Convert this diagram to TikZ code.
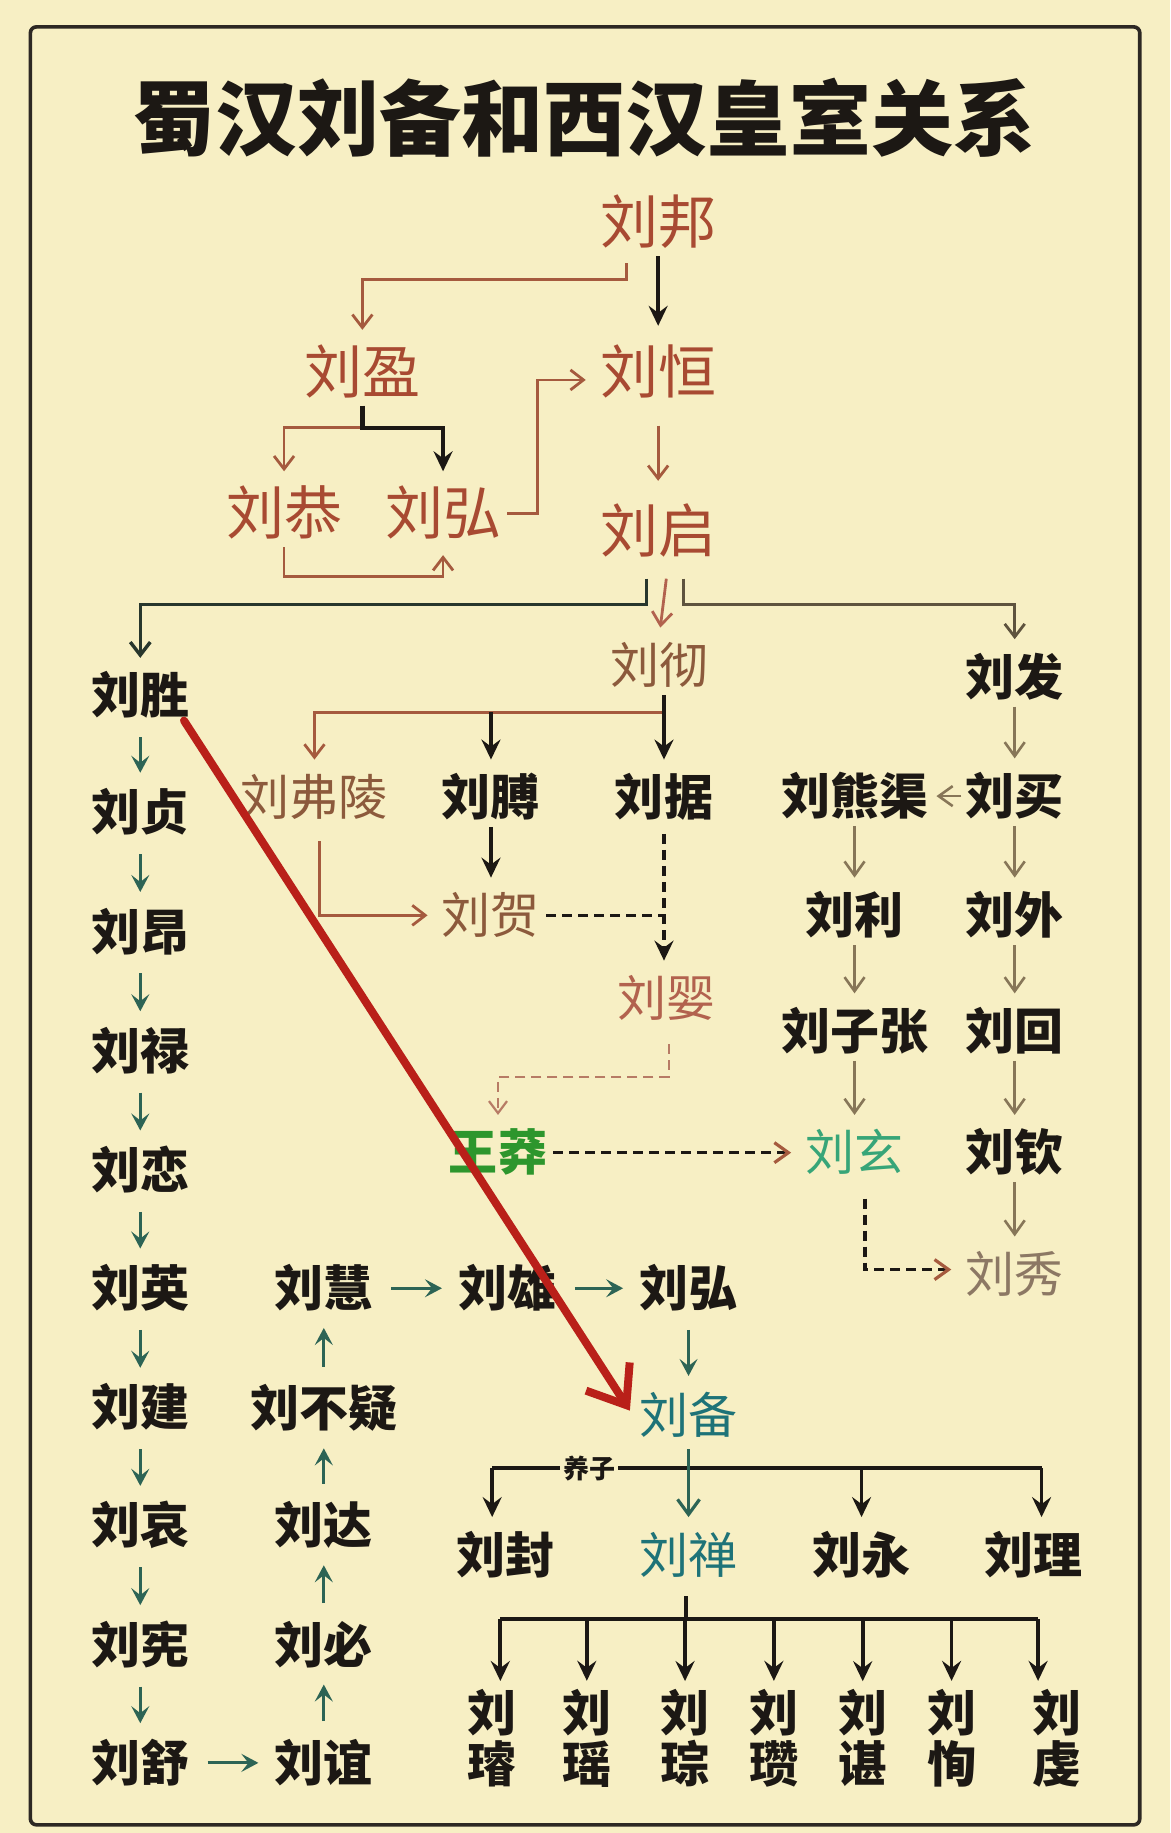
\documentclass[tikz,border=0pt]{standalone}
\usepackage{fontspec}
\newfontfamily\cjk{Noto Sans CJK SC}
\usetikzlibrary{arrows.meta,calc}
\definecolor{paper}{RGB}{247,239,196}
\definecolor{frameInk}{RGB}{45,40,35}
\definecolor{ink}{RGB}{28,24,20}
\definecolor{hanRed}{RGB}{168,74,50}
\definecolor{hanBrown}{RGB}{140,90,60}
\definecolor{yingPink}{RGB}{178,98,78}
\definecolor{lineBrown}{RGB}{165,90,62}
\definecolor{lineTeal}{RGB}{45,100,85}
\definecolor{lineDark}{RGB}{40,55,45}
\definecolor{lineGrey}{RGB}{135,118,88}
\definecolor{mangGreen}{RGB}{45,150,45}
\definecolor{xuanGreen}{RGB}{55,165,120}
\definecolor{beiTeal}{RGB}{30,115,120}
\definecolor{xiuGrey}{RGB}{140,120,100}
\definecolor{arrowRed}{RGB}{185,32,25}
\tikzset{
  person/.style={inner sep=3pt},
  emperor/.style={person, text height=24.6pt, text depth=2.9pt,
    font=\cjk\fontsize{29}{29}\selectfont, text=hanRed},
  royal/.style={person, text height=20.8pt, text depth=2.5pt,
    font=\cjk\fontsize{24.5}{24.5}\selectfont, text=hanBrown},
  kin/.style={person, text height=20.8pt, text depth=2.5pt,
    font=\cjk\bfseries\fontsize{24.5}{24.5}\selectfont, text=ink},
  grandson/.style={inner sep=2pt, align=center,
    font=\cjk\bfseries\fontsize{24.5}{25.5}\selectfont, text=ink},
  tag/.style={inner sep=1.5pt, fill=paper,
    font=\cjk\bfseries\fontsize{13}{13}\selectfont, text=ink},
  brownarr/.style={draw=lineBrown, line width=1.4pt, shorten >=4pt,
    -{Straight Barb[length=6.5pt,width=10pt]}},
  inkarr/.style={draw=ink, line width=1.9pt, shorten >=4pt,
    -{Stealth[length=10pt,width=9.5pt,inset=3.5pt]}},
  inkline/.style={draw=ink, line width=1.9pt},
  tealarr/.style={draw=lineTeal, line width=1.6pt, shorten <=6pt, shorten >=5pt,
    -{Stealth[length=8.5pt,width=9pt,inset=3.5pt]}},
  greyarr/.style={draw=lineGrey, line width=1.3pt, shorten >=4pt,
    -{Straight Barb[length=7pt,width=10pt]}},
  broken/.style={dash pattern=on 5pt off 3pt},
  bigarrow/.style={draw=arrowRed, line width=4pt, line cap=round,
    -{Straight Barb[length=17pt,width=26pt]}}
}
\begin{document}
\begin{tikzpicture}[x=0.5844pt, y=-0.5844pt]
\useasboundingbox (0,0) rectangle (1001,1568);
\fill[paper] (0,0) rectangle (1001,1568);
\draw[frameInk, line width=1.8pt, rounded corners=3pt] (26,23) rectangle (975,1561);
% Title
\node[font=\cjk\bfseries\fontsize{41}{41}\selectfont, text=ink] (title) at (500,101)
    {蜀汉刘备和西汉皇室关系};
% Western Han emperors
\node[emperor] (bang) at (563,190) {刘邦};
\node[emperor] (ying) at (310,318) {刘盈};
\node[emperor] (heng) at (563,318) {刘恒};
\node[emperor] (gong) at (243,439) {刘恭};
\node[emperor] (hongA) at (379,439) {刘弘};
\node[emperor] (qi) at (563,454) {刘启};
\node[royal] (che) at (564,569) {刘彻};
\node[kin] (sheng) at (120,595) {刘胜};
\node[kin] (fa) at (868,579) {刘发};
\node[royal] (fuling) at (269,682) {刘弗陵};
\node[kin] (bo) at (420,682) {刘膊};
\node[kin] (ju) at (568,682) {刘据};
\node[kin] (xiongqu) at (731,681) {刘熊渠};
\node[kin] (mai) at (868,681) {刘买};
\node[royal] (he) at (420,783) {刘贺};
\node[kin] (lili) at (731,783) {刘利};
\node[kin] (wai) at (868,783) {刘外};
\node[royal, text=yingPink] (yingB) at (570,854) {刘婴};
\node[kin] (zizhang) at (731,882) {刘子张};
\node[kin] (hui) at (868,882) {刘回};
\node[kin, text=mangGreen] (mang) at (426,986) {王莽};
\node[royal, text=xuanGreen] (xuan) at (731,986) {刘玄};
\node[kin] (qin) at (868,986) {刘钦};
\node[royal, text=xiuGrey] (xiu) at (868,1090) {刘秀};
% Zhongshan line down to Liu Bei
\node[kin] (zhen) at (120,695) {刘贞};
\node[kin] (ang) at (120,797) {刘昂};
\node[kin] (lu) at (120,899) {刘禄};
\node[kin] (lian) at (120,1001) {刘恋};
\node[kin] (yingC) at (120,1102) {刘英};
\node[kin] (jian) at (120,1204) {刘建};
\node[kin] (ai) at (120,1305) {刘哀};
\node[kin] (xian) at (120,1407) {刘宪};
\node[kin] (shu) at (120,1508) {刘舒};
\node[kin] (yi) at (277,1508) {刘谊};
\node[kin] (bi) at (277,1407) {刘必};
\node[kin] (da) at (277,1305) {刘达};
\node[kin] (buyi) at (277,1205) {刘不疑};
\node[kin] (huiB) at (277,1102) {刘慧};
\node[kin] (xiong) at (434,1102) {刘雄};
\node[kin] (hongB) at (589,1102) {刘弘};
\node[royal, text=beiTeal] (bei) at (589,1211) {刘备};
% Shu Han
\node[kin] (feng) at (432,1330) {刘封};
\node[royal, text=beiTeal] (shan) at (589,1330) {刘禅};
\node[kin] (yong) at (737,1330) {刘永};
\node[kin] (lixx) at (884,1330) {刘理};
\node[grandson] (kidA) at (421,1487) {刘\\璿};
\node[grandson] (kidB) at (502,1487) {刘\\瑶};
\node[grandson] (kidC) at (586,1487) {刘\\琮};
\node[grandson] (kidD) at (662,1487) {刘\\瓒};
\node[grandson] (kidE) at (738,1487) {刘\\谌};
\node[grandson] (kidF) at (814,1487) {刘\\恂};
\node[grandson] (kidG) at (904,1487) {刘\\虔};

% Liu Bang to Liu Qi
\draw[brownarr] ($(bang.south)+(-27,6)$) -- ++(0,14) -| (ying.north);
\draw[inkarr, shorten >=6pt] (bang.south) -- (heng.north);
\draw[brownarr] (ying.south) -- ++(0,19) -| (gong.north);
\draw[inkline, line width=2.2pt, -{Stealth[length=10pt,width=9.5pt,inset=3.5pt]}, shorten >=4pt]
    (ying.south) -- ++(0,19) -| (hongA.north);
\draw[brownarr] (hongA.east) -- ++(26,0) |- ($(heng.west)+(0,7)$);
\draw[brownarr] (gong.south) -- ++(0,25) -| (hongA.south);
\draw[brownarr, shorten <=10pt, shorten >=8pt] (heng.south) -- (qi.north);
% Liu Qi's sons
\draw[draw=lineDark, line width=1.7pt, shorten >=4pt, -{Straight Barb[length=6.5pt,width=10pt]}]
    ($(qi.south)+(-10,12)$) -- ++(0,22) -| (sheng.north);
\draw[brownarr, draw=yingPink] ($(qi.south)+(7,12)$) -- (che.north);
\draw[draw=lineGrey!70!black, line width=1.4pt, shorten >=4pt, -{Straight Barb[length=6.5pt,width=10pt]}]
    ($(qi.south)+(22,12)$) -- ++(0,22) -| (fa.north);
% Liu Che's sons
\coordinate (cheBar) at ($(che.south)+(4,15)$);
\draw[brownarr] (che.south -| cheBar) -- (cheBar) -| (fuling.north);
\draw[inkarr] (che.south -| cheBar) -- (ju.north);
\draw[inkarr] (cheBar -| bo.north) -- (bo.north);
\draw[brownarr] ($(fuling.south)+(4,12)$) |- (he.west);
\draw[inkarr] (bo.south) -- (he.north);
\draw[inkarr, broken] ($(ju.south)+(0,6)$) -- (ju.south |- yingB.north);
\draw[inkline, broken, line width=1.6pt] (he.east) -- (he.east -| ju.south);
\draw[draw=lineBrown!80, line width=1.1pt, broken, shorten >=4pt, -{Straight Barb[length=6pt,width=9pt]}]
    ($(yingB.south)+(2,14)$) -- ++(0,28) -| (mang.north);
\draw[draw=ink, line width=1.6pt, broken, shorten >=4pt, -{Straight Barb[length=7pt,width=10pt,color=lineBrown]}]
    (mang.east) -- (xuan.west);
\draw[draw=ink, line width=1.6pt, broken, shorten >=4pt, -{Straight Barb[length=7pt,width=10pt,color=lineBrown]}]
    ($(xuan.south)+(9,14)$) |- ($(xiu.west)+(0,-4)$);
% Changsha line
\draw[greyarr] (fa.south) -- (mai.north);
\draw[greyarr, shorten >=1pt, shorten <=-1pt] (mai.west) -- (xiongqu.east);
\draw[greyarr] (mai.south) -- (wai.north);
\draw[greyarr] (xiongqu.south) -- (lili.north);
\draw[greyarr] (wai.south) -- (hui.north);
\draw[greyarr] (lili.south) -- (zizhang.north);
\draw[greyarr] (hui.south) -- (qin.north);
\draw[greyarr] (zizhang.south) -- (xuan.north);
\draw[greyarr] (qin.south) -- (xiu.north);
% Zhongshan line
\draw[tealarr] (sheng.south) -- (zhen.north);
\draw[tealarr] (zhen.south) -- (ang.north);
\draw[tealarr] (ang.south) -- (lu.north);
\draw[tealarr] (lu.south) -- (lian.north);
\draw[tealarr] (lian.south) -- (yingC.north);
\draw[tealarr] (yingC.south) -- (jian.north);
\draw[tealarr] (jian.south) -- (ai.north);
\draw[tealarr] (ai.south) -- (xian.north);
\draw[tealarr] (xian.south) -- (shu.north);
\draw[tealarr] (shu.east) -- (yi.west);
\draw[tealarr] (yi.north) -- (bi.south);
\draw[tealarr] (bi.north) -- (da.south);
\draw[tealarr] (da.north) -- (buyi.south);
\draw[tealarr] (buyi.north) -- (huiB.south);
\draw[tealarr] (huiB.east) -- (xiong.west);
\draw[tealarr] (xiong.east) -- (hongB.west);
\draw[tealarr] (hongB.south) -- (bei.north);
% Liu Bei's sons
\coordinate (sonBar) at (589,1256);
\draw[inkline] ($(feng.north |- sonBar)+(-11,0)$) -- ($(lixx.north |- sonBar)+(7,0)$);
\draw[inkarr] ($(feng.north |- sonBar)+(-11,0)$) -- ($(feng.north)+(-11,0)$);
\draw[inkarr] (sonBar -| yong.north) -- (yong.north);
\draw[inkarr] ($(lixx.north |- sonBar)+(7,0)$) -- ($(lixx.north)+(7,0)$);
\node[tag] (yangzi) at (504,1256) {养子};
\draw[tealarr, shorten <=2pt, shorten >=4pt, -{Straight Barb[length=7.5pt,width=11pt]}]
    (bei.south) -- (shan.north);
% Liu Shan's sons
\coordinate (kidBar) at (587,1385);
\draw[inkline] ($(shan.south)+(-2,10)$) -- (kidBar);
\draw[inkline] ($(kidA.north |- kidBar)+(7,0)$) -- ($(kidG.north |- kidBar)+(-16,0)$);
\draw[inkarr, shorten >=2pt] ($(kidA.north |- kidBar)+(7,0)$) -- ($(kidA.north)+(7,0)$);
\draw[inkarr, shorten >=2pt] (kidBar -| kidB.north) -- (kidB.north);
\draw[inkarr, shorten >=2pt] (kidBar -| kidC.north) -- (kidC.north);
\draw[inkarr, shorten >=2pt] (kidBar -| kidD.north) -- (kidD.north);
\draw[inkarr, shorten >=2pt] (kidBar -| kidE.north) -- (kidE.north);
\draw[inkarr, shorten >=2pt] (kidBar -| kidF.north) -- (kidF.north);
\draw[inkarr, shorten >=2pt] ($(kidG.north |- kidBar)+(-16,0)$) -- ($(kidG.north)+(-16,0)$);
% From Liu Sheng to Liu Bei
\draw[bigarrow, shorten >=3pt] ($(sheng.south east)+(-10,-4)$) -- (bei.west);
\end{tikzpicture}
\end{document}
